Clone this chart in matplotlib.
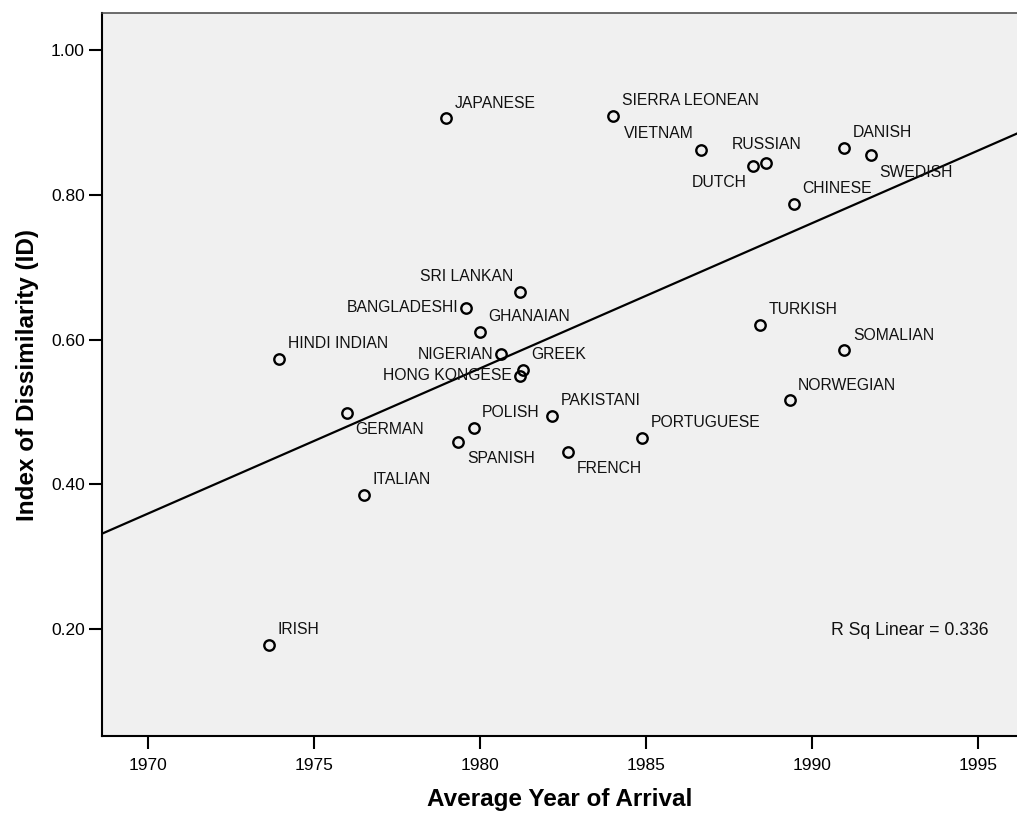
import numpy as np
import matplotlib.pyplot as plt
from matplotlib.ticker import FormatStrFormatter

plt.rcParams['font.family'] = ['Liberation Sans', 'DejaVu Sans']

# Ethnic groups: mean year of arrival vs. index of dissimilarity
groups = ["IRISH", "HINDI INDIAN", "GERMAN", "ITALIAN", "JAPANESE",
          "SPANISH", "BANGLADESHI", "POLISH", "GHANAIAN", "NIGERIAN",
          "HONG KONGESE", "SRI LANKAN", "GREEK", "PAKISTANI", "FRENCH",
          "SIERRA LEONEAN", "PORTUGUESE", "VIETNAM", "DUTCH", "TURKISH",
          "RUSSIAN", "NORWEGIAN", "CHINESE", "DANISH", "SOMALIAN", "SWEDISH"]
arrival = [1973.63, 1973.94, 1975.98, 1976.50, 1978.96,
           1979.33, 1979.57, 1979.79, 1979.98, 1980.63,
           1981.18, 1981.19, 1981.27, 1982.15, 1982.63,
           1984.00, 1984.86, 1986.63, 1988.22, 1988.41,
           1988.61, 1989.31, 1989.43, 1990.96, 1990.96, 1991.76]
dissim = [0.179, 0.573, 0.499, 0.386, 0.905,
          0.459, 0.644, 0.478, 0.611, 0.580,
          0.550, 0.665, 0.558, 0.495, 0.445,
          0.909, 0.464, 0.862, 0.840, 0.620,
          0.844, 0.516, 0.787, 0.864, 0.585, 0.854]
r_sq = 0.336

x_ticks = [1970, 1975, 1980, 1985, 1990, 1995]
y_ticks = [0.20, 0.40, 0.60, 0.80, 1.00]

# where each label sits relative to its point (default: upper right)
label_side = {
    "SRI LANKAN": "ul", "BANGLADESHI": "l", "NIGERIAN": "l",
    "HONG KONGESE": "l", "VIETNAM": "ul", "DUTCH": "dl", "RUSSIAN": "u",
    "SWEDISH": "dr", "GERMAN": "dr", "SPANISH": "dr", "FRENCH": "dr",
}
side_offsets = {
    "ur": ((6.2, 11.0), "left"),
    "dr": ((6.2, -12.0), "left"),
    "ul": ((-5.0, 11.5), "right"),
    "dl": ((-5.0, -12.0), "right"),
    "l": ((-5.5, 0.0), "right"),
    "u": ((0.0, 13.0), "center"),
}

fig = plt.figure(figsize=(10.17, 8.16), dpi=100)
ax = fig.add_axes([0.1003, 0.098, 0.9, 0.886])
ax.set_facecolor('#f0f0f0')

x = np.array(arrival)
y = np.array(dissim)
ax.plot(x, y, linestyle='none', marker='o', markersize=7.5,
        markerfacecolor='none', markeredgecolor='black',
        markeredgewidth=1.7, zorder=3)

# least-squares line across the full x range
slope, intercept = np.polyfit(x, y, 1)
xl = np.array([1960, 2000])
ax.plot(xl, intercept + slope * xl, color='black', linewidth=1.6, zorder=2)

for name, xi, yi in zip(groups, arrival, dissim):
    (dx, dy), ha = side_offsets[label_side.get(name, "ur")]
    ax.annotate(name, (xi, yi), xytext=(dx, dy), textcoords='offset points',
                ha=ha, va='center', fontsize=11.3, color='#111111', zorder=4)

ax.text(0.968, 0.1466, f"R Sq Linear = {r_sq:.3f}", transform=ax.transAxes,
        ha='right', va='center', fontsize=12.7, color='#111111')

ax.set_xlim(1968.6, 1996.17)
ax.set_ylim(0.0528, 1.0505)
ax.set_xticks(x_ticks)
ax.set_yticks(y_ticks)
ax.yaxis.set_major_formatter(FormatStrFormatter('%.2f'))
ax.tick_params(axis='both', direction='out', length=9.5, width=1.5,
               labelsize=12.5, colors='black')
ax.tick_params(axis='x', pad=6)
ax.tick_params(axis='y', pad=3)

for side in ['left', 'bottom']:
    ax.spines[side].set_linewidth(1.5)
    ax.spines[side].set_color('black')
ax.spines['top'].set_linewidth(1.1)
ax.spines['top'].set_color('#444444')
ax.spines['right'].set_visible(False)

ax.set_xlabel("Average Year of Arrival", fontsize=17.5, fontweight='bold')
ax.set_ylabel("Index of Dissimilarity (ID)", fontsize=17.5, fontweight='bold')
ax.xaxis.set_label_coords(0.5, -0.072)
ax.yaxis.set_label_coords(-0.069, 0.5)

fig.savefig('out.png', dpi=100, facecolor='white')
